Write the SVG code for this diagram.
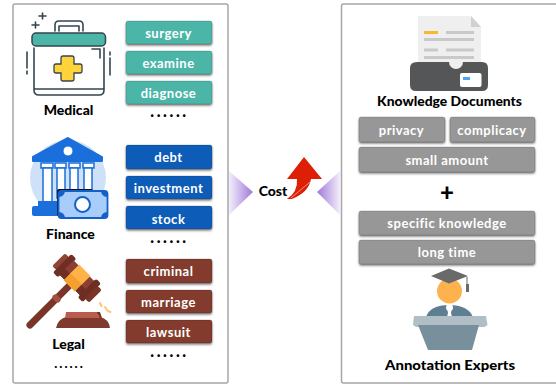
<svg xmlns="http://www.w3.org/2000/svg" width="556" height="385" viewBox="0 0 556 385">
<style>
text{font-family:"Lato","Open Sans","DejaVu Sans",sans-serif;text-anchor:middle}
.panel{fill:#fff;stroke:#a6a6a6;stroke-width:1.5}
.b{filter:url(#sh);stroke:#000;stroke-opacity:.18;stroke-width:.8}
.tag{font-size:13px;fill:#fff;font-weight:700;letter-spacing:.5px}
.lab{font-size:14px;fill:#000;font-weight:900}
.dots{font-size:16px;fill:#000;font-weight:900;letter-spacing:2.6px}
.ol{fill:none;stroke:#35464f;stroke-width:1.6;stroke-linecap:round;stroke-linejoin:round}
.bl{fill:#1a6fdc}
</style>
<defs>
<filter id="sh" x="-10%" y="-20%" width="120%" height="150%"><feDropShadow dx="0" dy="1.5" stdDeviation="1" flood-color="#000" flood-opacity=".55"/></filter>
<linearGradient id="gl" x1="0" x2="1" y1="0" y2="0"><stop offset="0" stop-color="#f3eefb"/><stop offset="1" stop-color="#a078d8"/></linearGradient>
<linearGradient id="gr" x1="1" x2="0" y1="0" y2="0"><stop offset="0" stop-color="#f3eefb"/><stop offset="1" stop-color="#a078d8"/></linearGradient>
</defs>
<rect width="556" height="385" fill="#fff"/>
<rect class="panel" x="13" y="4" width="215" height="379" rx="2"/>
<rect class="panel" x="341.500" y="4" width="216" height="379" rx="2"/>

<g id="medical">
<path class="ol" d="M55 31V25q0-4 4-4h20q4 0 4 4v6M59 31V26h20v5"/>
<rect x="32" y="33" width="73.500" height="13" rx="4" fill="#4bb5a8" stroke="#35464f" stroke-width="1.500"/>
<path class="ol" d="M34 48V90q0 5 5 5h60q5 0 5-5V48M35 89h68M92 49h8v9M27 52v16M27 71v3M110 52v3M110 58v17M32 25h7M35.500 22v6M39 16h7M42.500 13v6"/>
<path d="M63 56h9q2 0 2 2v6h6q2 0 2 2v5q0 2-2 2h-6v6q0 2-2 2h-9q-2 0-2-2v-6h-5q-2 0-2-2v-5q0-2 2-2h5v-6q0-2 2-2z" fill="#ffd43a" stroke="#35464f" stroke-width="1.300"/>
<text class="lab" x="68.500" y="115">Medical</text>
</g>
<g id="surgery"><rect class="b" x="126" y="21" width="86" height="23" rx="2" fill="#4bb5a8"/><text class="tag" x="168.500" y="38">surgery</text></g>
<g id="examine"><rect class="b" x="126" y="51" width="86" height="23" rx="2" fill="#4bb5a8"/><text class="tag" x="168.500" y="68">examine</text></g>
<g id="diagnose"><rect class="b" x="126" y="81" width="86" height="23" rx="2" fill="#4bb5a8"/><text class="tag" x="168.500" y="98">diagnose</text></g>
<text class="dots" x="169.500" y="117">......</text>

<g id="finance">
<ellipse cx="68" cy="178" rx="38" ry="38" fill="#cfe1f8"/>
<path class="bl" d="M68 138l34 19v4H33v-4z" stroke="#1a6fdc" stroke-width="2" stroke-linejoin="round"/>
<circle cx="68" cy="151" r="5" fill="#fff" stroke="#1a6fdc" stroke-width="1"/>
<g fill="#fff" stroke="#1a6fdc" stroke-width="1.500">
<rect x="41" y="163" width="12" height="5"/><rect x="55" y="163" width="11" height="5"/><rect x="69" y="163" width="11" height="5"/><rect x="83" y="163" width="11" height="5"/>
<rect x="43" y="168" width="9" height="36"/><rect x="57" y="168" width="8" height="30"/><rect x="70" y="168" width="8" height="30"/><rect x="84" y="168" width="8" height="30"/>
</g>
<path class="bl" d="M38 201h20v5H38z"/>
<rect x="32" y="206" width="28" height="10" rx="2" fill="#1a6fdc"/>
<rect x="57" y="189" width="36" height="27" fill="#111" rx="2"/>
<rect x="58.500" y="191" width="49" height="27" rx="3" fill="#a8cdfb" stroke="#1560c8" stroke-width="1.800"/>
<circle cx="82.500" cy="204.500" r="7.500" fill="#fff" stroke="#1560c8" stroke-width="2"/>
<path fill="#1560c8" d="M59 191h6a6 6 0 0 1-6 6zM107 191h-6a6 6 0 0 0 6 6zM59 218h6a6 6 0 0 0-6-6zM107 218h-6a6 6 0 0 1 6-6z"/>
<text class="lab" x="70.500" y="239">Finance</text>
</g>
<g id="debt"><rect class="b" x="126" y="145" width="86" height="24" rx="2" fill="#0b5cb8"/><text class="tag" x="168.500" y="162">debt</text></g>
<g id="investment"><rect class="b" x="126" y="176" width="86" height="23" rx="2" fill="#0b5cb8"/><text class="tag" x="168.500" y="193">investment</text></g>
<g id="stock"><rect class="b" x="126" y="206" width="86" height="23" rx="2" fill="#0b5cb8"/><text class="tag" x="168.500" y="224">stock</text></g>
<text class="dots" x="169.500" y="243">......</text>

<g id="legal">
<g transform="translate(77 278) rotate(45)">
<rect x="-3.500" y="8" width="7" height="62" rx="3.500" fill="#7a3428"/>
<rect x="-4.500" y="26" width="9" height="6" rx="3" fill="#a34f43"/>
<rect x="-26" y="-9" width="6" height="18" rx="2" fill="#8f4436"/>
<rect x="-21" y="-13" width="7" height="26" rx="2" fill="#6e2e24"/>
<rect x="-15" y="-10" width="30" height="20" fill="#8a3f32"/>
<rect x="-8" y="-11" width="16" height="22" fill="#ffb347"/>
<rect x="-8" y="1" width="16" height="10" fill="#f59f2f"/>
<rect x="14" y="-13" width="7" height="26" rx="2" fill="#6e2e24"/>
<rect x="-15" y="2" width="7" height="8" fill="#6e2e24"/>
<rect x="8" y="2" width="7" height="8" fill="#6e2e24"/>
<rect x="20" y="-9" width="6" height="18" rx="2" fill="#7a3428"/>
</g>
<path d="M56 328q2-9 10-11h34q9 2 10 11z" fill="#7f392d"/>
<path d="M66 312h30l4 6H65z" fill="#b85c4d"/>
<path d="M96 312h4l2 6h-2z" fill="#7a3428"/>
<path d="M100 303l1.500 3M105 307l2 3M108 311l2.500 1" stroke="#ffc46b" stroke-width="2" stroke-linecap="round"/>
<text class="lab" x="68.500" y="349">Legal</text>
<text class="dots" x="69.500" y="368" style="font-size:13px;letter-spacing:2px">......</text>
</g>
<g id="criminal"><rect class="b" x="126" y="259" width="86" height="24" rx="2" fill="#833a2e"/><text class="tag" x="168.500" y="276">criminal</text></g>
<g id="marriage"><rect class="b" x="126" y="290" width="86" height="23" rx="2" fill="#833a2e"/><text class="tag" x="168.500" y="307">marriage</text></g>
<g id="lawsuit"><rect class="b" x="126" y="320" width="86" height="23" rx="2" fill="#833a2e"/><text class="tag" x="168.500" y="337">lawsuit</text></g>
<text class="dots" x="169.500" y="357">......</text>

<g id="cost">
<path d="M229 171l24 21-24 23z" fill="url(#gl)"/>
<path d="M340 171l-23 21 23 23z" fill="url(#gr)"/>
<text x="273" y="196" style="font-size:14px;font-weight:900" fill="#000">Cost</text>
<path d="M304 157L322 179H311Q309 192 292 199H287Q298 192 297 179H287Z" fill="#dc1f05"/>
<path d="M291 198l19-16" stroke="#f7c8c0" stroke-width=".7"/>
</g>

<g id="docs">
<path d="M418 16h53l10 11v42h-63z" fill="#efefef"/>
<path d="M471 16l10 11h-10z" fill="#d0d0d5"/>
<g fill="#c9c9c9"><rect x="446" y="31" width="28" height="3"/><rect x="424" y="38" width="50" height="3"/><rect x="424" y="48.500" width="14" height="3"/><rect x="446" y="48.500" width="28" height="3"/><rect x="424" y="56" width="50" height="3"/></g>
<rect x="424" y="31" width="14" height="3" fill="#fbb72f"/>
<path d="M417 62h32a7 7 0 0 0 14 0h19q6 0 6 6v17q0 6-6 6H416q-6 0-6-6V68q0-6 7-6z" fill="#555658"/>
<rect x="460" y="73" width="21.500" height="14" rx="2" fill="#fff"/>
<rect x="463" y="77" width="7" height="3" fill="#4fa3f5"/>
<text class="lab" x="449.500" y="106" textLength="145" lengthAdjust="spacingAndGlyphs">Knowledge Documents</text>
</g>
<g id="privacy"><rect class="b" x="359" y="117" width="86" height="25" rx="2" fill="#979797"/><text class="tag" x="401.500" y="135">privacy</text></g>
<g id="complicacy"><rect class="b" x="450" y="117" width="85" height="25" rx="2" fill="#979797"/><text class="tag" x="492" y="135">complicacy</text></g>
<g id="small-amount"><rect class="b" x="359" y="147" width="176" height="25" rx="2" fill="#979797"/><text class="tag" x="447" y="165">small amount</text></g>
<text x="447" y="201" style="font-size:24px;font-weight:900" fill="#000">+</text>
<g id="specific"><rect class="b" x="359" y="211" width="176" height="24" rx="2" fill="#979797"/><text class="tag" x="447" y="228">specific knowledge</text></g>
<g id="long-time"><rect class="b" x="359" y="240" width="176" height="24" rx="2" fill="#979797"/><text class="tag" x="447" y="257">long time</text></g>

<g id="experts">
<circle cx="449.500" cy="291" r="12.500" fill="#fdb24e"/>
<path d="M449 268.500l19 7.500-19 7.500-18-7.500z" fill="#6a6a6a"/>
<path d="M467 277v8" stroke="#6a6a6a" stroke-width="1"/>
<rect x="466" y="284" width="3" height="8" fill="#6a6a6a"/>
<path d="M426 317q4-12 23-12t24 12z" fill="#5e7f92"/>
<path d="M447 307h5l-1 6 1 4h-5l1-4z" fill="#fff"/><circle cx="449.500" cy="307.500" r="3.500" fill="#fff"/>
<path d="M414 316h72l1.500 9-3 2H416l-3-2z" fill="#b0bec5"/>
<path d="M418 325h61l-7 25h-44z" fill="#78909c"/>
<text class="lab" x="450" y="370" textLength="130" lengthAdjust="spacingAndGlyphs">Annotation Experts</text>
</g>
</svg>
